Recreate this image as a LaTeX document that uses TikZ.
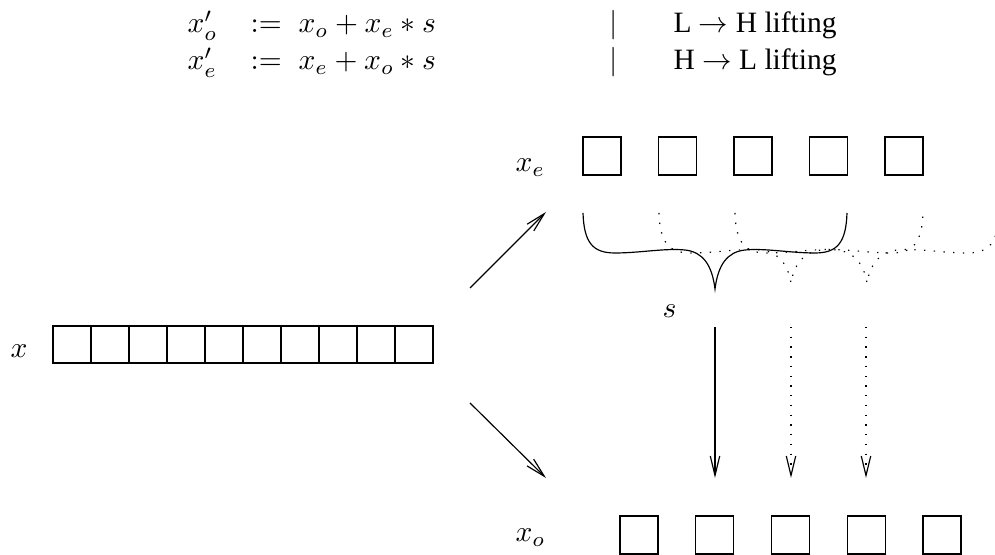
\documentclass[tikz,border=0pt]{standalone}
\usepackage{fontspec}
\setmainfont{Liberation Serif}
\usetikzlibrary{arrows.meta}
\tikzset{
  pics/bracecurve/.style={code={
    \draw[pic actions] (-132,213) .. controls (-131,243) and (-122,253) .. (-100,253)
      .. controls (-75,253) and (-50,248) .. (-30,250)
      .. controls (-12,252) and (-3,265) .. (0,#1)
      .. controls (3,265) and (12,252) .. (30,250)
      .. controls (50,248) and (75,253) .. (100,253)
      .. controls (122,253) and (131,243) .. (132,213);
  }}
}
\begin{document}
\begin{tikzpicture}[x=0.339pt,y=-0.339pt,line width=0.4pt,
  cell/.style={draw,minimum width=12.88pt,minimum height=12.54pt,inner sep=0pt,outer sep=0pt},
  sq/.style={draw,minimum width=12.88pt,minimum height=12.88pt,inner sep=0pt,outer sep=0pt},
  lbl/.style={inner sep=0pt,anchor=base west},
  dotline/.style={dash pattern=on 0.45pt off 2.85pt},
  arr/.style={-{Straight Barb[length=6.6pt,width=3.2pt]}}]
\useasboundingbox (0,0) rectangle (995,555);

% equations
\node[lbl] (e1a) at (187,33) {$x'_o$};
\node[lbl] (e1b) at (250,33) {$:=$};
\node[lbl] (e1c) at (298,33) {$x_o + x_e * s$};
\node[lbl] (e1d) at (609,33) {$|$};
\node[lbl] (e1e) at (673,33) {L $\rightarrow$ H lifting};
\node[lbl] (e2a) at (187,70) {$x'_e$};
\node[lbl] (e2b) at (250,70) {$:=$};
\node[lbl] (e2c) at (298,70) {$x_e + x_o * s$};
\node[lbl] (e2d) at (609,70) {$|$};
\node[lbl] (e2e) at (673,70) {H $\rightarrow$ L lifting};

% x row
\node[lbl] (xl) at (10,358) {$x$};
\foreach \i in {0,...,9} {
  \node[cell] (x\i) at ({72+38*\i},344.5) {};
}

% x_e row
\node[lbl] (xel) at (515,172) {$x_e$};
\foreach \i in {0,...,4} {
  \node[sq] (e\i) at ({602+75.5*\i},156) {};
}

% x_o row
\node[lbl] (xol) at (515,542) {$x_o$};
\foreach \i in {0,...,4} {
  \node[sq] (o\i) at ({639+75.75*\i},535) {};
}

% s label
\node[lbl] (sl) at (662,318) {$s$};

% diagonal arrows
\coordinate (d1s) at (470,288);
\coordinate (d1e) at (546,212);
\coordinate (d2s) at (470,403);
\coordinate (d2e) at (546,478);
\draw[arr] (d1s) -- (d1e);
\draw[arr] (d2s) -- (d2e);

% braces
\begin{scope}
\clip (0,0) rectangle (995,555);
\pic at (715,0) {bracecurve=289};
\pic[dotline] at (791,0) {bracecurve=283};
\pic[dotline] at (867,0) {bracecurve=283};
\end{scope}

% vertical arrows
\coordinate (v1s) at (715,327);
\coordinate (v1e) at (715,478);
\coordinate (v2s) at (791,327);
\coordinate (v2e) at (791,478);
\coordinate (v3s) at (866,327);
\coordinate (v3e) at (866,478);
\draw[arr] (v1s) -- (v1e);
\draw[arr,dotline] (v2s) -- (v2e);
\draw[arr,dotline] (v3s) -- (v3e);
\end{tikzpicture}
\end{document}
